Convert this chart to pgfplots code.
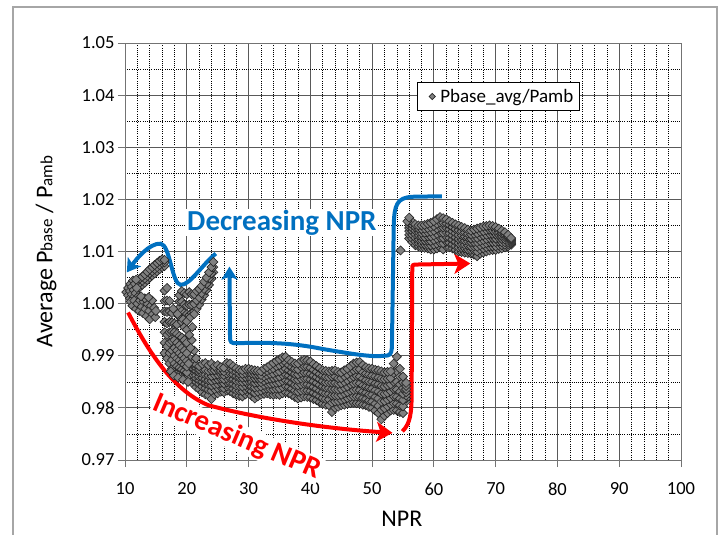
\documentclass[border=0pt]{standalone}
\usepackage{fontspec}
\setmainfont{Carlito}
\usepackage{pgfplots}
\pgfplotsset{compat=1.18}
\usepackage{pgfplotstable}
\usetikzlibrary{arrows.meta}
\definecolor{myblue}{RGB}{0,112,192}
\definecolor{myred}{RGB}{255,0,0}

% main band, NPR 20-56
\pgfplotstableread{
x a b c d e f g
20.5 0.9858 0.9866 0.9872 0.9879 0.9884 0.9890 0.9895
21.0 0.9846 0.9855 0.9862 0.9870 0.9876 0.9881 0.9886
21.5 0.9840 0.9850 0.9857 0.9863 0.9871 0.9877 0.9883
22.0 0.9836 0.9846 0.9853 0.9860 0.9868 0.9874 0.9880
22.5 0.9830 0.9841 0.9850 0.9858 0.9866 0.9875 0.9884
23.0 0.9826 0.9838 0.9847 0.9855 0.9864 0.9873 0.9886
23.5 0.9824 0.9835 0.9845 0.9853 0.9862 0.9871 0.9882
24.0 0.9817 0.9833 0.9843 0.9852 0.9861 0.9872 0.9885
24.5 0.9826 0.9836 0.9845 0.9854 0.9863 0.9872 0.9880
25.0 0.9828 0.9838 0.9846 0.9855 0.9864 0.9873 0.9882
25.5 0.9831 0.9840 0.9848 0.9856 0.9865 0.9871 0.9878
26.0 0.9830 0.9838 0.9847 0.9855 0.9863 0.9870 0.9877
26.5 0.9833 0.9841 0.9849 0.9857 0.9866 0.9875 0.9886
27.0 0.9832 0.9840 0.9848 0.9857 0.9866 0.9876 0.9885
27.5 0.9828 0.9837 0.9846 0.9855 0.9864 0.9872 0.9880
28.0 0.9825 0.9834 0.9843 0.9852 0.9861 0.9869 0.9876
28.5 0.9823 0.9833 0.9842 0.9851 0.9859 0.9866 0.9873
29.0 0.9822 0.9832 0.9841 0.9850 0.9858 0.9865 0.9872
29.5 0.9826 0.9835 0.9843 0.9851 0.9859 0.9867 0.9875
30.0 0.9828 0.9836 0.9844 0.9852 0.9860 0.9868 0.9875
30.5 0.9823 0.9832 0.9841 0.9850 0.9858 0.9866 0.9873
31.0 0.9818 0.9829 0.9839 0.9848 0.9857 0.9865 0.9872
31.5 0.9822 0.9831 0.9840 0.9849 0.9857 0.9864 0.9871
32.0 0.9825 0.9833 0.9841 0.9849 0.9856 0.9863 0.9870
32.5 0.9827 0.9836 0.9844 0.9852 0.9860 0.9868 0.9875
33.0 0.9828 0.9837 0.9846 0.9855 0.9863 0.9871 0.9878
33.5 0.9826 0.9836 0.9846 0.9856 0.9865 0.9874 0.9882
34.0 0.9825 0.9836 0.9847 0.9857 0.9866 0.9876 0.9886
34.5 0.9826 0.9837 0.9848 0.9859 0.9869 0.9880 0.9890
35.0 0.9825 0.9837 0.9849 0.9860 0.9870 0.9882 0.9893
35.5 0.9828 0.9840 0.9852 0.9863 0.9874 0.9886 0.9897
36.0 0.9830 0.9842 0.9853 0.9864 0.9875 0.9887 0.9898
36.5 0.9828 0.9840 0.9851 0.9862 0.9872 0.9882 0.9892
37.0 0.9825 0.9837 0.9848 0.9858 0.9868 0.9878 0.9888
37.5 0.9821 0.9833 0.9844 0.9855 0.9865 0.9875 0.9885
38.0 0.9818 0.9831 0.9843 0.9854 0.9864 0.9874 0.9885
38.5 0.9820 0.9833 0.9845 0.9856 0.9867 0.9879 0.9890
39.0 0.9822 0.9834 0.9846 0.9857 0.9868 0.9880 0.9892
39.5 0.9821 0.9833 0.9845 0.9856 0.9867 0.9879 0.9891
40.0 0.9820 0.9832 0.9843 0.9854 0.9865 0.9877 0.9889
40.5 0.9817 0.9829 0.9840 0.9851 0.9862 0.9873 0.9884
41.0 0.9815 0.9826 0.9837 0.9848 0.9859 0.9869 0.9880
41.5 0.9811 0.9822 0.9833 0.9844 0.9855 0.9865 0.9876
42.0 0.9808 0.9819 0.9830 0.9841 0.9851 0.9862 0.9872
42.5 0.9806 0.9817 0.9828 0.9839 0.9849 0.9860 0.9871
43.0 0.9805 0.9816 0.9827 0.9838 0.9849 0.9859 0.9870
43.5 0.9792 0.9810 0.9824 0.9836 0.9848 0.9860 0.9871
44.0 0.9800 0.9812 0.9824 0.9836 0.9848 0.9860 0.9872
44.5 0.9802 0.9813 0.9824 0.9835 0.9846 0.9857 0.9869
45.0 0.9805 0.9815 0.9825 0.9836 0.9847 0.9857 0.9868
45.5 0.9806 0.9817 0.9828 0.9839 0.9850 0.9861 0.9872
46.0 0.9808 0.9819 0.9830 0.9841 0.9853 0.9864 0.9875
46.5 0.9809 0.9821 0.9833 0.9845 0.9857 0.9869 0.9880
47.0 0.9810 0.9822 0.9834 0.9847 0.9860 0.9872 0.9885
47.5 0.9809 0.9822 0.9835 0.9848 0.9861 0.9874 0.9887
48.0 0.9808 0.9821 0.9834 0.9847 0.9860 0.9874 0.9888
48.5 0.9806 0.9819 0.9831 0.9843 0.9856 0.9868 0.9882
49.0 0.9805 0.9817 0.9829 0.9841 0.9853 0.9866 0.9878
49.5 0.9802 0.9814 0.9826 0.9839 0.9851 0.9864 0.9876
50.0 0.9800 0.9812 0.9825 0.9837 0.9850 0.9862 0.9875
50.5 0.9795 0.9808 0.9821 0.9834 0.9847 0.9860 0.9873
51.0 0.9790 0.9804 0.9818 0.9831 0.9845 0.9858 0.9872
51.5 0.9778 0.9796 0.9812 0.9827 0.9842 0.9856 0.9870
52.0 0.9785 0.9799 0.9813 0.9827 0.9841 0.9855 0.9868
52.5 0.9790 0.9803 0.9816 0.9829 0.9843 0.9856 0.9869
53.0 0.9795 0.9807 0.9819 0.9832 0.9845 0.9857 0.9870
53.5 0.9796 0.9809 0.9822 0.9836 0.9850 0.9867 0.9885
54.0 0.9795 0.9808 0.9821 0.9835 0.9850 0.9870 0.9898
54.5 0.9792 0.9805 0.9818 0.9831 0.9845 0.9860 0.9875
55.0 0.9790 0.9803 0.9815 0.9827 0.9838 0.9849 0.9860
55.5 0.9812 0.9818 0.9824 0.9830 0.9836 0.9842 0.9848
}\tabD

% upper band, NPR 56-72
\pgfplotstableread{
x a b c d e f g
56.0 1.0125 1.0132 1.0139 1.0145 1.0150 1.0155 1.0160
56.5 1.0118 1.0125 1.0132 1.0139 1.0145 1.0151 1.0157
57.0 1.0112 1.0119 1.0126 1.0133 1.0140 1.0146 1.0152
57.5 1.0110 1.0117 1.0124 1.0131 1.0138 1.0144 1.0150
58.0 1.0108 1.0115 1.0122 1.0129 1.0136 1.0143 1.0150
58.5 1.0107 1.0114 1.0121 1.0128 1.0136 1.0144 1.0151
59.0 1.0106 1.0113 1.0121 1.0129 1.0137 1.0145 1.0153
59.5 1.0104 1.0112 1.0120 1.0129 1.0138 1.0147 1.0155
60.0 1.0104 1.0113 1.0122 1.0131 1.0140 1.0149 1.0158
60.5 1.0106 1.0115 1.0125 1.0134 1.0144 1.0153 1.0162
61.0 1.0108 1.0117 1.0127 1.0137 1.0147 1.0156 1.0166
61.5 1.0104 1.0116 1.0126 1.0136 1.0146 1.0155 1.0164
62.0 1.0110 1.0119 1.0128 1.0137 1.0146 1.0154 1.0162
62.5 1.0108 1.0117 1.0126 1.0135 1.0143 1.0151 1.0158
63.0 1.0106 1.0114 1.0123 1.0131 1.0139 1.0147 1.0155
63.5 1.0103 1.0111 1.0119 1.0127 1.0135 1.0143 1.0152
64.0 1.0100 1.0108 1.0116 1.0124 1.0132 1.0141 1.0150
64.5 1.0099 1.0107 1.0115 1.0123 1.0131 1.0139 1.0147
65.0 1.0098 1.0106 1.0113 1.0121 1.0129 1.0137 1.0145
65.5 1.0097 1.0104 1.0112 1.0120 1.0127 1.0134 1.0142
66.0 1.0096 1.0103 1.0110 1.0118 1.0125 1.0133 1.0140
66.5 1.0094 1.0102 1.0110 1.0118 1.0126 1.0134 1.0142
67.0 1.0091 1.0100 1.0109 1.0118 1.0126 1.0135 1.0144
67.5 1.0096 1.0104 1.0112 1.0120 1.0129 1.0138 1.0146
68.0 1.0098 1.0106 1.0114 1.0122 1.0131 1.0139 1.0148
68.5 1.0100 1.0108 1.0116 1.0124 1.0132 1.0141 1.0149
69.0 1.0102 1.0110 1.0118 1.0126 1.0134 1.0142 1.0150
69.5 1.0103 1.0110 1.0118 1.0126 1.0134 1.0141 1.0149
70.0 1.0103 1.0110 1.0118 1.0125 1.0133 1.0140 1.0147
70.5 1.0105 1.0112 1.0119 1.0126 1.0132 1.0138 1.0144
71.0 1.0106 1.0112 1.0118 1.0124 1.0130 1.0135 1.0140
71.5 1.0108 1.0113 1.0118 1.0123 1.0128 1.0132 1.0137
72.0 1.0110 1.0114 1.0118 1.0122 1.0126 1.0129 1.0132
72.5 1.0113 1.0116 1.0118 1.0120 1.0122 1.0124 1.0126
}\tabE

% falling column, NPR 16-20
\pgfplotstableread{
x a b c d e f g
16.4 0.9905 0.9925 0.9945 0.9965 0.9985 1.0005 1.0025
16.8 0.9895 0.9918 0.9940 0.9962 0.9984 1.0006 1.0030
17.2 0.9885 0.9905 0.9925 0.9945 0.9965 0.9985 1.0005
17.6 0.9875 0.9892 0.9910 0.9928 0.9946 0.9964 0.9982
18.0 0.9870 0.9885 0.9900 0.9915 0.9930 0.9945 0.9962
18.4 0.9866 0.9880 0.9895 0.9910 0.9925 0.9942 0.9960
18.8 0.9864 0.9877 0.9891 0.9905 0.9920 0.9938 0.9975
19.2 0.9862 0.9874 0.9887 0.9900 0.9915 0.9935 0.9965
19.6 0.9860 0.9871 0.9883 0.9895 0.9910 0.9930 0.9955
20.0 0.9858 0.9868 0.9879 0.9890 0.9905 0.9925 0.9950
}\tabB

% rising branches, NPR 12-24.5
\pgfplotstableread{
x a b c
12.0 1.0028 1.0036 1.0044
12.4 1.0032 1.0040 1.0048
12.8 1.0036 1.0044 1.0052
13.2 1.0040 1.0048 1.0056
13.6 1.0045 1.0053 1.0061
14.0 1.0050 1.0058 1.0066
14.4 1.0054 1.0062 1.0070
14.8 1.0058 1.0066 1.0074
15.2 1.0062 1.0070 1.0078
15.6 1.0066 1.0074 1.0082
16.0 1.0070 1.0078 1.0085
16.4 1.0072 1.0079 1.0084
18.8 0.9992 1.0004 1.0016
19.2 0.9986 1.0004 1.0024
19.6 0.9982 0.9998 1.0020
20.0 0.9980 0.9996 1.0018
20.4 0.9978 0.9998 1.0022
20.8 0.9982 0.9998 1.0018
21.2 0.9985 1.0000 1.0018
21.6 0.9990 1.0006 1.0024
22.0 0.9998 1.0012 1.0028
22.4 1.0008 1.0020 1.0034
22.8 1.0016 1.0028 1.0042
23.2 1.0026 1.0038 1.0050
23.6 1.0036 1.0048 1.0060
24.0 1.0048 1.0058 1.0070
24.3 1.0060 1.0070 1.0080
}\tabC

\begin{document}
\begin{tikzpicture}
\begin{axis}[
  at={(125bp,75bp)}, anchor=south west,
  scale only axis, width=556bp, height=417bp,
  xmin=10, xmax=100, ymin=0.97, ymax=1.05,
  xtick={10,20,30,40,50,60,70,80,90,100},
  ytick={0.97,0.98,0.99,1.00,1.01,1.02,1.03,1.04,1.05},
  minor x tick num=4, minor y tick num=1,
  grid=both,
  major grid style={solid, black!65, line width=0.8bp},
  minor grid style={black, line width=0.6bp, dash pattern=on 1bp off 1.2bp},
  axis line style={black!55, line width=0.8bp},
  tick pos=left, tick align=outside, major tick length=7bp, minor tick length=0pt,
  major tick style={black!55, line width=0.8bp},
  y tick label style={/pgf/number format/.cd, fixed, fixed zerofill, precision=2, /tikz/.cd},
  /pgf/number format/assume math mode=true,
  tick label style={font=\fontsize{18.5bp}{20bp}\selectfont},
  x tick label style={yshift=-12bp},
  xlabel={NPR},
  ylabel={Average P{\fontsize{17bp}{17bp}\selectfont base} / P{\fontsize{17bp}{17bp}\selectfont amb}},
  label style={font=\fontsize{24bp}{26bp}\selectfont},
  xlabel style={at={(axis description cs:0.498,-0.1415)}, anchor=center},
  ylabel style={at={(axis description cs:-0.142,0.5)}, anchor=center},
  legend style={at={(0.525,0.907)}, anchor=north west, draw=black, line width=0.8bp,
    font=\fontsize{19bp}{21bp}\selectfont, inner xsep=4bp, inner ysep=5bp},
  legend cell align=left,
  legend image code/.code={\path[draw=none] (0,0) -- (17bp,0);
    \draw[#1, mark size=2.2bp] plot coordinates {(11bp,0)};},
  pts/.style={only marks, mark=square*, mark size=3.2bp,
    mark options={rotate=45, fill=black!50, draw=black!85, line width=0.65bp}},
]
\addplot[pts] table[x=x,y=a]{\tabD};
\addlegendentry{Pbase\_avg/Pamb}
\addplot[pts, forget plot] table[x=x,y=b]{\tabD};
\addplot[pts, forget plot] table[x=x,y=c]{\tabD};
\addplot[pts, forget plot] table[x=x,y=d]{\tabD};
\addplot[pts, forget plot] table[x=x,y=e]{\tabD};
\addplot[pts, forget plot] table[x=x,y=f]{\tabD};
\addplot[pts, forget plot] table[x=x,y=g]{\tabD};
\addplot[pts, forget plot] table[x=x,y=a]{\tabE};
\addplot[pts, forget plot] table[x=x,y=b]{\tabE};
\addplot[pts, forget plot] table[x=x,y=c]{\tabE};
\addplot[pts, forget plot] table[x=x,y=d]{\tabE};
\addplot[pts, forget plot] table[x=x,y=e]{\tabE};
\addplot[pts, forget plot] table[x=x,y=f]{\tabE};
\addplot[pts, forget plot] table[x=x,y=g]{\tabE};
\addplot[pts, forget plot] table[x=x,y=a]{\tabB};
\addplot[pts, forget plot] table[x=x,y=b]{\tabB};
\addplot[pts, forget plot] table[x=x,y=c]{\tabB};
\addplot[pts, forget plot] table[x=x,y=d]{\tabB};
\addplot[pts, forget plot] table[x=x,y=e]{\tabB};
\addplot[pts, forget plot] table[x=x,y=f]{\tabB};
\addplot[pts, forget plot] table[x=x,y=g]{\tabB};
\addplot[pts, forget plot] table[x=x,y=a]{\tabC};
\addplot[pts, forget plot] table[x=x,y=b]{\tabC};
\addplot[pts, forget plot] table[x=x,y=c]{\tabC};
% scattered points of the left clusters and isolated points
\addplot[pts, forget plot] coordinates {
(10.2,1.0022)(10.5,1.0016)(10.5,1.0030)(10.8,1.0010)(10.8,1.0024)(10.9,1.0038)(11.1,1.0018)(11.1,1.0032)
(11.3,1.0044)(11.4,1.0012)(11.4,1.0026)(11.6,1.0038)(11.7,1.0020)(11.8,1.0046)(11.9,1.0030)(12.0,1.0012)
(10.9,1.0004)(11.2,0.9996)(11.5,1.0006)(11.8,0.9990)(12.0,1.0000)(12.3,0.9986)(12.4,1.0006)(12.7,0.9994)
(12.9,0.9982)(13.0,1.0004)(13.3,0.9990)(13.5,0.9976)(13.6,1.0000)(13.9,0.9986)(14.0,0.9970)(14.2,0.9996)
(14.5,0.9980)(14.7,0.9992)(14.9,0.9974)(15.0,0.9986)(13.2,1.0010)(14.4,1.0006)(12.6,1.0014)(13.8,1.0012)
(17.8,0.9990)(18.5,0.9980)(19.4,0.9970)(20.0,0.9966)(20.6,0.9974)(21.2,0.9980)
(20.8,0.9930)(21.2,0.9910)(21.5,0.9895)(20.9,0.9955)(20.4,0.9940)(20.6,0.9915)(20.3,0.9885)
(17.4,0.9870)(17.9,0.9862)(18.6,0.9858)(19.4,0.9854)(20.2,0.9850)
(54.6,1.0102)(55.7,1.0158)(56.0,1.0165)
};
% arrows
\draw[myblue, line width=4bp, -{Stealth[length=13bp,width=16bp,inset=3bp]}]
  (61.3,1.0206) -- (56.5,1.0205) .. controls (54,1.0203) and (53.6,1.019) .. (53.5,1.015)
  -- (53.2,0.9915) .. controls (53.1,0.9902) and (52.8,0.9900) .. (52,0.9900)
  .. controls (50,0.9897) and (47,0.9903) .. (42,0.9913)
  .. controls (37,0.9925) and (33,0.9926) .. (28,0.9924)
  .. controls (27.2,0.9924) and (27,0.9926) .. (27,0.9935) -- (26.9,1.0071);
\draw[myblue, line width=4bp, -{Stealth[length=13bp,width=16bp,inset=3bp]}]
  (24.7,1.0096) .. controls (22.5,1.0075) and (20.5,1.0035) .. (19,1.0036)
  .. controls (17.6,1.0037) and (17.3,1.0112) .. (15.8,1.0115)
  .. controls (14,1.0117) and (11.8,1.0085) .. (10.3,1.0060);
\draw[myred, line width=4bp, -{Stealth[length=16bp,width=20bp,inset=4bp]}]
  (10.5,0.9983) .. controls (13.5,0.9915) and (17.5,0.9835) .. (23.5,0.9805)
  .. controls (32,0.9778) and (43,0.9760) .. (53.3,0.9752);
\draw[myred, line width=4bp, -{Stealth[length=16bp,width=20bp,inset=4bp]}]
  (54.9,0.9755) .. controls (56.2,0.9770) and (56.4,0.9790) .. (56.4,0.9830)
  -- (56.5,1.0068) .. controls (56.5,1.0074) and (56.6,1.0075) .. (57.2,1.0075) -- (65.9,1.0077);
\node[text=myblue, fill=white, inner sep=1bp, font=\bfseries\fontsize{29bp}{29bp}\selectfont]
  at (axis cs:35.4,1.0155) {Decreasing NPR};
\coordinate (incpos) at (axis cs:28.1,0.9744);
\end{axis}
\node[rotate=-23, text=myred, fill=white, inner sep=1bp, font=\bfseries\fontsize{29bp}{29bp}\selectfont]
  at (incpos) {Increasing NPR};
\draw[black!35, line width=1.2bp] (13bp,-5bp) -- (13bp,528bp) -- (717bp,528bp) -- (717bp,-5bp);
\pgfresetboundingbox
\useasboundingbox (0,0) rectangle (723bp,535bp);
\end{tikzpicture}
\end{document}
